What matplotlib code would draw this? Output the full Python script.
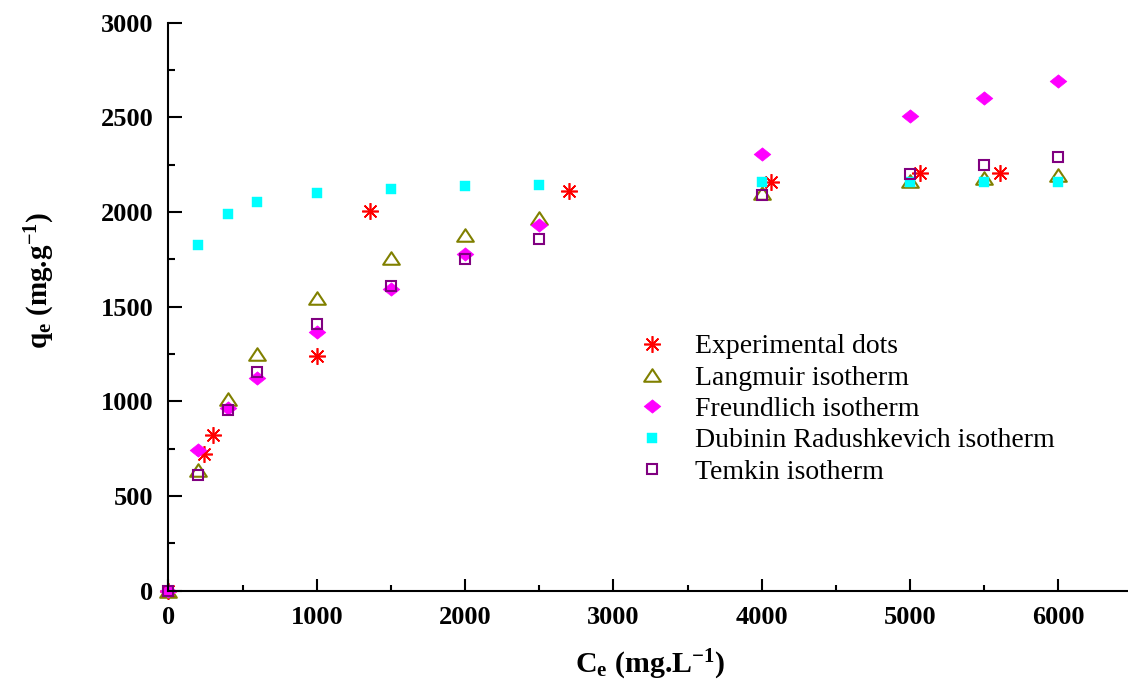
import matplotlib
matplotlib.use("Agg")
import matplotlib.pyplot as plt
from matplotlib.path import Path
from matplotlib.ticker import MultipleLocator

plt.rcParams['font.family'] = ['Liberation Serif', 'DejaVu Serif']
plt.rcParams['mathtext.fontset'] = 'custom'
plt.rcParams['mathtext.rm'] = 'Liberation Serif'
plt.rcParams['mathtext.it'] = 'Liberation Serif:italic'
plt.rcParams['mathtext.bf'] = 'Liberation Serif:bold'

# ---- data ----
exp_x = [0, 240, 300, 1000, 1360, 2700, 4060, 5070, 5610]
exp_y = [0, 723, 820, 1240, 2005, 2110, 2160, 2208, 2208]

ce = [0, 200, 400, 600, 1000, 1500, 2000, 2500, 4000, 5000, 5500, 6000]
langmuir = [0, 640, 1012, 1252, 1547, 1756, 1880, 1967, 2103, 2162, 2182, 2194]
freundlich = [0, 744, 965, 1124, 1365, 1591, 1780, 1931, 2305, 2508, 2602, 2690]
temkin = [0, 612, 954, 1155, 1407, 1607, 1750, 1859, 2092, 2203, 2249, 2293]

dr_x = [200, 400, 600, 1000, 1500, 2000, 2500, 4000, 5000, 5500, 6000]
dr_y = [1824, 1991, 2051, 2099, 2124, 2138, 2145, 2159, 2159, 2159, 2159]

labels = ["Experimental dots", "Langmuir isotherm", "Freundlich isotherm",
          "Dubinin Radushkevich isotherm", "Temkin isotherm"]

# ---- figure ----
fig = plt.figure(figsize=(11.28, 6.85), dpi=100)
ax = fig.add_axes([168.5/1128, 1-590.7/685, 1-168.5/1128, (590.7-22.7)/685])

tri = Path([(-1, -0.75), (1, -0.75), (0, 0.75), (-1, -0.75)],
           [Path.MOVETO, Path.LINETO, Path.LINETO, Path.CLOSEPOLY])
dia = Path([(0, 0.8), (1, 0), (0, -0.8), (-1, 0), (0, 0.8)],
           [Path.MOVETO, Path.LINETO, Path.LINETO, Path.LINETO, Path.CLOSEPOLY])

kw = dict(linestyle='none', clip_on=False)
ax.plot(exp_x, exp_y, marker=(8, 2, 0), color='#ff0000', markersize=12,
        markeredgewidth=1.2, label=labels[0], **kw)
ax.plot(ce, langmuir, marker=tri, markerfacecolor='none', markeredgecolor='#808000',
        markersize=12, markeredgewidth=1.5, label=labels[1], **kw)
ax.plot(ce, freundlich, marker=dia, color='#ff00ff', markersize=12,
        markeredgewidth=0.5, label=labels[2], **kw)
ax.plot(dr_x, dr_y, marker='s', color='#00ffff', markersize=7.2,
        markeredgewidth=0.3, label=labels[3], **kw)
ax.plot(ce, temkin, marker='s', markerfacecolor='none', markeredgecolor='#800080',
        markersize=6.5, markeredgewidth=1.5, label=labels[4], **kw)

ax.set_xlim(0, (1128-168.5)/0.1483)
ax.set_ylim(0, 3000)
ax.spines['top'].set_visible(False)
ax.spines['right'].set_visible(False)
for s in ('left', 'bottom'):
    ax.spines[s].set_linewidth(1.5)

ax.xaxis.set_major_locator(MultipleLocator(1000))
ax.xaxis.set_minor_locator(MultipleLocator(500))
ax.yaxis.set_major_locator(MultipleLocator(500))
ax.yaxis.set_minor_locator(MultipleLocator(250))
ax.tick_params(axis='y', which='major', direction='in', length=10, width=1.5, pad=11)
ax.tick_params(axis='y', which='minor', direction='in', length=5, width=1.5)
ax.tick_params(axis='x', which='major', direction='in', length=8.5, width=1.5, pad=11)
ax.tick_params(axis='x', which='minor', direction='in', length=4.5, width=1.5)
for t in ax.get_xticklabels() + ax.get_yticklabels():
    t.set_fontsize(19)
    t.set_fontweight('bold')

fig.text(40/1128, 1-280/685, r'q$_\mathbf{e}$ (mg.g$^{\mathbf{-1}}$)', rotation=90,
         ha='center', va='center', fontsize=21, fontweight='bold')
fig.text(650/1128, 1-665/685, r'C$_\mathbf{e}$ (mg.L$^{\mathbf{-1}}$)',
         ha='center', va='center', fontsize=21.5, fontweight='bold')

leg = ax.legend(loc='upper left', bbox_to_anchor=(641/1128, 1-334/685),
                bbox_transform=fig.transFigure, frameon=False, fontsize=20,
                numpoints=1, handlelength=0.8, handletextpad=1.15,
                labelspacing=0.21, borderpad=0, borderaxespad=0)

fig.savefig("out.png", dpi=100)
